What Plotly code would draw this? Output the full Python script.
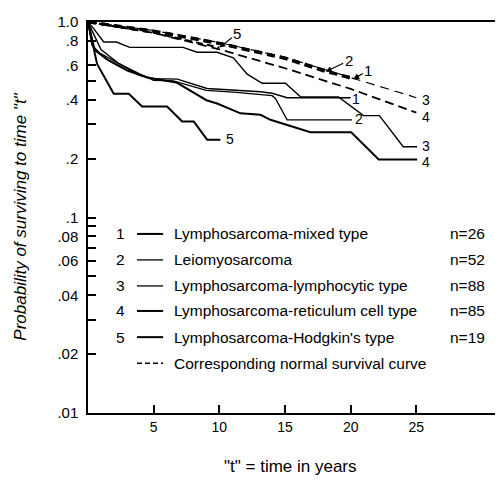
import math
import plotly.graph_objects as go

# ---------------- data ----------------
# Observed survival curves (t in years, probability of surviving)
c1_t = [0, 1.0, 2.4, 3.9, 5.0, 6.8, 9.07, 11.07, 13.13, 14.02, 15.16, 20.0]
c1_s = [1.0, 0.72, 0.61, 0.535, 0.513, 0.51, 0.457, 0.449, 0.44, 0.432, 0.41, 0.41]

c2_t = [0, 0.3, 0.9, 2.2, 4.0, 5.0, 6.5, 9.0, 11.07, 13.13, 14.02, 14.27, 15.16, 20.1]
c2_s = [1.0, 0.76, 0.694, 0.62, 0.54, 0.503, 0.5, 0.447, 0.438, 0.427, 0.42, 0.406, 0.316, 0.316]

c3_t = [0, 0.4, 1.2, 2.16, 3.18, 7.24, 8.31, 9.83, 11.07, 12.12, 13.26, 15.03, 16.18, 19.07, 20.98, 22.19, 24.0, 25.06]
c3_s = [1.0, 0.93, 0.79, 0.79, 0.742, 0.742, 0.70, 0.70, 0.655, 0.541, 0.486, 0.486, 0.414, 0.414, 0.332, 0.332, 0.23, 0.23]

c4_t = [0, 0.5, 1.5, 3.0, 4.5, 6.73, 9.02, 9.83, 11.61, 13.13, 13.89, 15.41, 16.94, 20.04, 22.14, 25.06]
c4_s = [1.0, 0.72, 0.64, 0.565, 0.52, 0.491, 0.398, 0.383, 0.341, 0.335, 0.316, 0.295, 0.273, 0.273, 0.198, 0.198]

c5_t = [0, 0.69, 1.96, 3.1, 4.12, 6.02, 7.17, 8.05, 9.07, 10.08]
c5_s = [1.0, 0.61, 0.43, 0.43, 0.37, 0.37, 0.31, 0.31, 0.25, 0.25]

# Corresponding normal survival curves
n1_t = [0, 5, 10, 15, 20.2]
n1_s = [1.0, 0.90, 0.78, 0.655, 0.51]
n2_t = [0, 5, 10, 15, 18.1, 20.0]
n2_s = [1.0, 0.895, 0.775, 0.65, 0.557, 0.52]
n3_t = [0, 5, 10, 15, 20, 25]
n3_s = [1.0, 0.905, 0.785, 0.66, 0.52, 0.41]
n4_t = [0, 5, 10, 15, 20, 25]
n4_s = [1.0, 0.88, 0.725, 0.58, 0.455, 0.344]
n5_t = [0, 5, 10]
n5_s = [1.0, 0.88, 0.74]

# curve-end labels: (text, t, probability)
end_labels = [("1", 20.37, 0.404), ("2", 20.67, 0.318), ("3", 25.7, 0.231),
              ("4", 25.7, 0.193), ("5", 10.85, 0.253), ("3", 25.7, 0.40),
              ("4", 25.7, 0.327)]

legend_nums = ["1", "2", "3", "4", "5"]
legend_names = ["Lymphosarcoma-mixed type", "Leiomyosarcoma",
                "Lymphosarcoma-lymphocytic type",
                "Lymphosarcoma-reticulum cell type",
                "Lymphosarcoma-Hodgkin's type"]
legend_n = ["n=26", "n=52", "n=88", "n=85", "n=19"]
normal_label = "Corresponding normal survival curve"

y_tickvals = [0.01, 0.02, 0.03, 0.04, 0.05, 0.06, 0.07, 0.08, 0.09, 0.1,
              0.2, 0.3, 0.4, 0.5, 0.6, 0.8, 1.0]
y_ticktext = [".01", ".02", "", ".04", "", ".06", "", ".08", "", ".1",
              ".2", "", ".4", "", ".6", ".8", "1.0"]
x_tickvals = [5, 10, 15, 20, 25]

FONT = "Liberation Sans"
fig = go.Figure()

solid = [(c1_t, c1_s, 1.4), (c2_t, c2_s, 1.3), (c3_t, c3_s, 1.4),
         (c4_t, c4_s, 2.0), (c5_t, c5_s, 2.0)]
for t, s, w in solid:
    fig.add_trace(go.Scatter(x=t, y=s, mode="lines",
                             line=dict(color="black", width=w),
                             showlegend=False, hoverinfo="skip"))

normals = [(n1_t, n1_s, 3.0, "8px,5px"), (n2_t, n2_s, 3.0, "8px,5px"),
           (n3_t, n3_s, 1.2, "9px,6px"), (n4_t, n4_s, 1.8, "9px,5px"),
           (n5_t, n5_s, 2.0, "7px,4px")]
for t, s, w, d in normals:
    fig.add_trace(go.Scatter(x=t, y=s, mode="lines",
                             line=dict(color="black", width=w, dash=d),
                             showlegend=False, hoverinfo="skip"))

ann = []
tf = dict(family=FONT, size=15, color="black")
for txt, t, s in end_labels:
    ann.append(dict(x=t, y=math.log10(s), xref="x", yref="y",
                    text=txt, showarrow=False, xanchor="center", yanchor="middle",
                    font=dict(family=FONT, size=14, color="black")))
# arrow labels on normal curves
arrows = [("5", n5_t[-1], n5_s[-1], 18, -14),
          ("2", 18.1, 0.557, 23, -11),
          ("1", 20.2, 0.51, 15, -9)]
for txt, t, s, ax, ay in arrows:
    ann.append(dict(x=t, y=math.log10(s), xref="x", yref="y", text=txt,
                    showarrow=True, arrowhead=2, arrowsize=1, arrowwidth=1.2,
                    ax=ax, ay=ay, font=tf, arrowcolor="black"))

# legend block (paper coordinates)
rows_y = [0.458, 0.3915, 0.325, 0.261, 0.194, 0.1275]
shapes = []
lf = dict(family=FONT, size=15.5, color="black")
lw = [2.0, 1.3, 1.3, 2.0, 2.0]
for i in range(5):
    y = rows_y[i]
    ann.append(dict(x=0.0795, y=y, xref="paper", yref="paper", text=legend_nums[i],
                    showarrow=False, xanchor="center", yanchor="middle", font=lf))
    ann.append(dict(x=0.2024, y=y, xref="paper", yref="paper", text=legend_names[i],
                    showarrow=False, xanchor="left", yanchor="middle", font=lf))
    ann.append(dict(x=0.868, y=y, xref="paper", yref="paper", text=legend_n[i],
                    showarrow=False, xanchor="left", yanchor="middle", font=lf))
    shapes.append(dict(type="line", xref="paper", yref="paper", x0=0.118, x1=0.181,
                       y0=y, y1=y, line=dict(color="black", width=lw[i])))
shapes.append(dict(type="line", xref="paper", yref="paper", x0=0.118, x1=0.181,
                   y0=rows_y[5], y1=rows_y[5],
                   line=dict(color="black", width=1.5, dash="5px,3px")))
ann.append(dict(x=0.2024, y=rows_y[5], xref="paper", yref="paper", text=normal_label,
                showarrow=False, xanchor="left", yanchor="middle", font=lf))

# axis titles
ann.append(dict(x=-0.163, y=0.503, xref="paper", yref="paper", textangle=-90,
                text="<i>Probability of surviving to time \"t\"</i>", showarrow=False,
                xanchor="center", yanchor="middle",
                font=dict(family=FONT, size=17, color="black")))
ann.append(dict(x=0.487, y=-0.137, xref="paper", yref="paper",
                text="\"t\" = time in years", showarrow=False,
                xanchor="center", yanchor="middle",
                font=dict(family=FONT, size=17, color="black")))

fig.update_layout(
    width=503, height=484,
    margin=dict(l=80, r=8, t=5, b=79),
    paper_bgcolor="white", plot_bgcolor="white",
    annotations=ann, shapes=shapes, showlegend=False,
    xaxis=dict(range=[0, 31.6], tickvals=x_tickvals, ticks="inside", ticklen=8,
               tickwidth=1.5, tickcolor="black", showline=True, linecolor="black",
               linewidth=1.5, mirror=True, showgrid=False, zeroline=False,
               tickfont=dict(family=FONT, size=14, color="black")),
    yaxis=dict(type="log", range=[-2, 0], tickvals=y_tickvals, ticktext=y_ticktext,
               ticks="inside", ticklen=8, tickwidth=1.5, tickcolor="black",
               showline=True, linecolor="black", linewidth=1.5, mirror=False,
               showgrid=False, zeroline=False, ticklabelstandoff=5,
               ticklabeloverflow="allow",
               tickfont=dict(family=FONT, size=15, color="black")),
)
fig.write_html("out.html")
